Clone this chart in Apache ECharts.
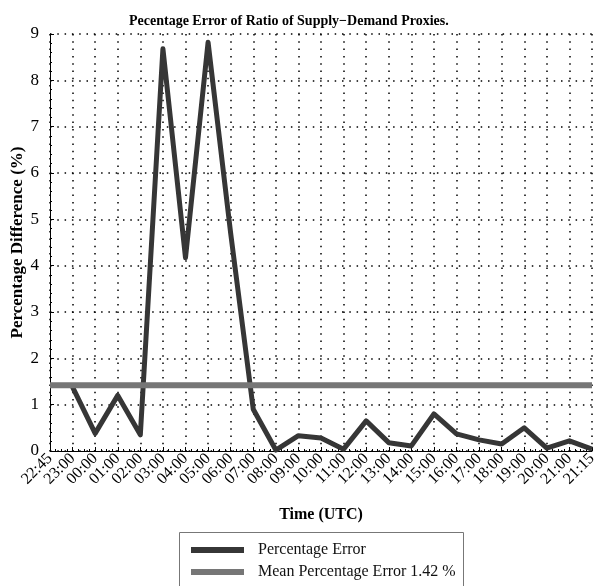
<!DOCTYPE html>
<html>
<head>
<meta charset="utf-8">
<script src="https://cdn.jsdelivr.net/npm/echarts@6/dist/echarts.min.js"></script>
<style>
    html, body { margin: 0; padding: 0; background: #fff; }
    #chart { width: 594px; height: 586px; }
</style>
</head>
<body>
<div id="chart"></div>
<script>
    // x categories (hours, UTC)
    var timeLabels = ['22:45', '23:00', '00:00', '01:00', '02:00', '03:00', '04:00', '05:00', '06:00',
        '07:00', '08:00', '09:00', '10:00', '11:00', '12:00', '13:00', '14:00', '15:00', '16:00',
        '17:00', '18:00', '19:00', '20:00', '21:00', '21:15'];
    // percentage error per hour
    var percentError = [null, 1.38, 0.38, 1.2, 0.35, 8.68, 4.17, 8.82, 4.7,
        0.9, 0.02, 0.33, 0.28, 0.04, 0.65, 0.18, 0.11, 0.8, 0.37,
        0.24, 0.15, 0.5, 0.06, 0.22, 0.04];
    // mean percentage error, flat line
    var meanError = [1.42, 1.42, 1.42, 1.42, 1.42, 1.42, 1.42, 1.42, 1.42,
        1.42, 1.42, 1.42, 1.42, 1.42, 1.42, 1.42, 1.42, 1.42, 1.42,
        1.42, 1.42, 1.42, 1.42, 1.42, 1.42];
    var yTicks = [0, 9, 1]; // min, max, interval

    var serif = 'Liberation Serif, Times New Roman, serif';
    var dots = { color: '#000', width: 1.5, type: [1.5, 5.8] };

    var chart = echarts.init(document.getElementById('chart'));
    chart.setOption({
        animation: false,
        title: {
            text: 'Pecentage Error of Ratio of Supply\u2212Demand Proxies.',
            left: 124,
            top: 9,
            textStyle: { fontFamily: serif, fontSize: 14, fontWeight: 'bold', color: '#000' }
        },
        // legend frame, runs off the bottom edge like the original
        graphic: [{
            type: 'rect',
            shape: { x: 179.5, y: 532.5, width: 284, height: 80 },
            style: { fill: 'none', stroke: '#777', lineWidth: 1 }
        }],
        legend: {
            orient: 'vertical',
            left: 179,
            top: 533,
            padding: [9, 10, 0, 12],
            itemGap: 6,
            itemWidth: 53,
            itemHeight: 6,
            icon: 'rect',
            textStyle: { fontFamily: serif, fontSize: 16, color: '#111', padding: [0, 0, 0, 9] },
            data: ['Percentage Error', 'Mean Percentage Error 1.42 %']
        },
        grid: { left: 50, right: 2, top: 34, bottom: 135, containLabel: false, outerBoundsMode: 'none' },
        xAxis: [{
            type: 'category',
            data: timeLabels,
            boundaryGap: false,
            name: 'Time (UTC)',
            nameLocation: 'middle',
            nameGap: 56,
            nameMoveOverlap: false,
            nameTextStyle: { fontFamily: serif, fontSize: 16, fontWeight: 'bold', color: '#000' },
            axisLine: { lineStyle: { color: '#000', width: 1 } },
            axisTick: { inside: true, length: 4, alignWithLabel: true, lineStyle: { color: '#000' } },
            axisLabel: { interval: 0, rotate: 45, margin: 5, fontFamily: serif, fontSize: 16, color: '#000' },
            splitLine: { show: true, interval: 0, lineStyle: dots }
        }, {
            // only used for the small ticks between hours
            type: 'value',
            min: 0,
            max: 24,
            interval: 1,
            position: 'bottom',
            axisLine: { show: false },
            axisTick: { show: false, inside: true },
            axisLabel: { show: false },
            splitLine: { show: false },
            minorTick: { show: true, splitNumber: 4, length: 2, lineStyle: { color: '#000' } }
        }],
        yAxis: {
            type: 'value',
            min: yTicks[0],
            max: yTicks[1],
            interval: yTicks[2],
            name: 'Percentage Difference (%)',
            nameLocation: 'middle',
            nameGap: 24,
            nameMoveOverlap: false,
            nameTextStyle: { fontFamily: serif, fontSize: 17, fontWeight: 'bold', color: '#000' },
            axisLine: { show: true, lineStyle: { color: '#000', width: 1 } },
            axisTick: { show: true, inside: true, length: 4, lineStyle: { color: '#000' } },
            minorTick: { show: true, splitNumber: 5, length: 2, lineStyle: { color: '#000' } },
            axisLabel: { margin: 11, fontFamily: serif, fontSize: 17, color: '#000' },
            splitLine: { show: true, lineStyle: dots }
        },
        series: [
            {
                name: 'Percentage Error',
                type: 'line',
                data: percentError,
                symbol: 'none',
                color: '#363636',
                lineStyle: { width: 5, color: '#363636', join: 'round' },
                z: 3
            },
            {
                name: 'Mean Percentage Error 1.42 %',
                type: 'line',
                data: meanError,
                symbol: 'none',
                color: '#767676',
                lineStyle: { width: 6, color: '#767676' },
                z: 4
            }
        ]
    });
</script>
</body>
</html>
